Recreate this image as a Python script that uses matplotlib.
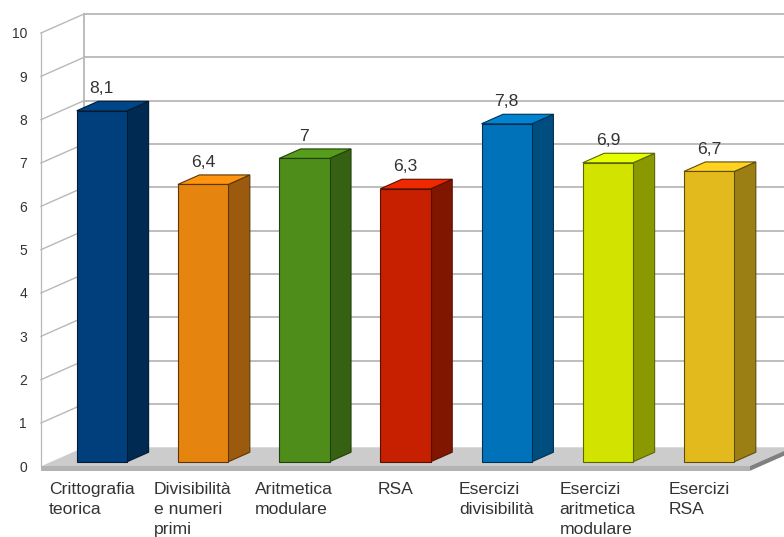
import matplotlib
matplotlib.use("Agg")
import matplotlib.pyplot as plt
from matplotlib.transforms import ScaledTranslation

plt.rcParams["font.family"] = ["Liberation Sans", "DejaVu Sans"]

categories = [
    "Crittografia\nteorica",
    "Divisibilità\ne numeri\nprimi",
    "Aritmetica\nmodulare",
    "RSA",
    "Esercizi\ndivisibilità",
    "Esercizi\naritmetica\nmodulare",
    "Esercizi\nRSA",
]
values = [8.1, 6.4, 7.0, 6.3, 7.8, 6.9, 6.7]
value_labels = ["8,1", "6,4", "7", "6,3", "7,8", "6,9", "6,7"]
y_ticks = list(range(0, 11))

front_colors = ["#003f7c", "#e5850f", "#4f8d1a", "#c62000", "#0072ba", "#d2e300", "#e3ba1d"]
top_colors = ["#004586", "#ff950e", "#579d1c", "#f02800", "#0084d1", "#e6ff00", "#ffd320"]
side_colors = ["#002a52", "#9c5a0f", "#356112", "#801500", "#004e80", "#8a9900", "#9b7e14"]
edge_colors = ["#001b36", "#5c3608", "#22400b", "#561000", "#00304f", "#5c6600", "#5f4d0c"]

W, H = 784, 537
X0, X1 = 41, 784
Y_BASE, Y_TOP = 466.3, 33.0
CAT_PX = 101.2
CAT_LEFT = -0.5

fig = plt.figure(figsize=(W / 100, H / 100), dpi=100, facecolor="white")
ax = fig.add_axes([X0 / W, 1 - Y_BASE / H, (X1 - X0) / W, (Y_BASE - Y_TOP) / H])
ax.set_xlim(CAT_LEFT, CAT_LEFT + (X1 - X0) / CAT_PX)
ax.set_ylim(0, 10)
for spine in ax.spines.values():
    spine.set_visible(False)
ax.patch.set_visible(False)

# Oblique depth: d=0 is the front of the floor, d=1 the back wall.
DX = 43 / CAT_PX
DY = 19 / ((Y_BASE - Y_TOP) / 10)
BAR_HALF = 25.2 / CAT_PX
BAR_D0, BAR_D1 = 0.24, 0.74
SLAB = 0.11


def pt(x, v, d=0.0):
    return x + d * DX, v + d * DY


def face(points, color, edge="none", lw=0.0, z=2):
    xs, ys = zip(*points)
    ax.fill(xs, ys, facecolor=color, edgecolor=edge, linewidth=lw,
            clip_on=False, zorder=z, joinstyle="miter")


x_right = ax.get_xlim()[1]
x_end = CAT_LEFT + len(categories)
GRID = "#b8b8b8"

# Walls: one line per tick on the side wall and along the back wall.
for v in y_ticks:
    xa, ya = pt(CAT_LEFT, v, 0)
    xb, yb = pt(CAT_LEFT, v, 1)
    if v > 0:
        ax.plot([xa, xb], [ya, yb], color=GRID, lw=1.0, clip_on=False, zorder=1)
        ax.plot([xb, x_right], [yb, yb], color=GRID, lw=1.3, clip_on=False, zorder=1)

xa, ya = pt(CAT_LEFT, 0, 0)
xt, yt = pt(CAT_LEFT, 10, 0)
ax.plot([xa, xt], [ya, yt], color=GRID, lw=0.9, clip_on=False, zorder=1)
xa, ya = pt(CAT_LEFT, 0, 1)
xt, yt = pt(CAT_LEFT, 10, 1)
ax.plot([xa, xt], [ya, yt], color=GRID, lw=1.3, clip_on=False, zorder=1)

# Floor slab with its visible front and right faces.
face([pt(CAT_LEFT, 0, 0), pt(x_end, 0, 0), pt(x_end, 0, 1), pt(CAT_LEFT, 0, 1)], "#cccccc", z=1.5)
face([pt(CAT_LEFT, 0, 0), pt(x_end, 0, 0), pt(x_end, -SLAB, 0), pt(CAT_LEFT, -SLAB, 0)], "#b3b3b3", z=1.6)
face([pt(x_end, 0, 0), pt(x_end, 0, 1), pt(x_end, -SLAB, 1), pt(x_end, -SLAB, 0)], "#808080", z=1.6)

# Bars: side and top faces first, front face last.
for i, v in enumerate(values):
    l, r = i - BAR_HALF, i + BAR_HALF
    z = 3 + i * 0.01
    face([pt(r, 0, BAR_D0), pt(r, 0, BAR_D1), pt(r, v, BAR_D1), pt(r, v, BAR_D0)],
         side_colors[i], edge_colors[i], 0.8, z)
    face([pt(l, v, BAR_D0), pt(r, v, BAR_D0), pt(r, v, BAR_D1), pt(l, v, BAR_D1)],
         top_colors[i], edge_colors[i], 0.8, z)
    face([pt(l, 0, BAR_D0), pt(r, 0, BAR_D0), pt(r, v, BAR_D0), pt(l, v, BAR_D0)],
         front_colors[i], edge_colors[i], 0.8, z)
    lx, ly = pt(i, v, BAR_D0)
    ax.annotate(value_labels[i], xy=(lx, ly), xytext=(0, 12.8), textcoords="offset points",
                ha="center", va="baseline", fontsize=12.6, color="#333333",
                annotation_clip=False, zorder=5)

ax.set_yticks(y_ticks)
ax.set_xticks(range(len(categories)))
ax.set_xticklabels(categories, fontsize=12.6, color="#333333", linespacing=1.42)
# Category labels sit slightly left of their tick positions.
nudge = ScaledTranslation(-1.5 / 100, 0, fig.dpi_scale_trans)
for label in ax.get_xticklabels():
    label.set_multialignment("left")
    label.set_transform(label.get_transform() + nudge)
ax.tick_params(axis="x", length=0, pad=11.5)
ax.tick_params(axis="y", length=0, pad=10, labelsize=10, labelcolor="#333333")

fig.savefig("out.png", dpi=100)
